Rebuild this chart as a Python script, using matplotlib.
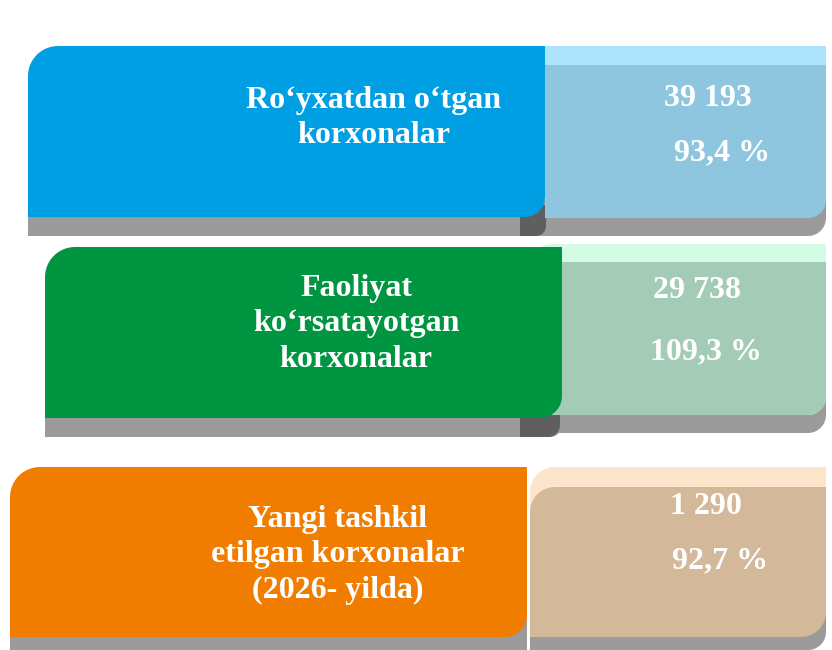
import numpy as np
import matplotlib
matplotlib.use("Agg")
from matplotlib import pyplot as plt
from matplotlib.patches import Polygon


# data of the three blocks
labels = ["Ro\u2018yxatdan o\u2018tgan\nkorxonalar",
          "Faoliyat\nko\u2018rsatayotgan\nkorxonalar",
          "Yangi tashkil\netilgan korxonalar\n(2026- yilda)"]
counts = ["39 193", "29 738", "1 290"]
percents = ["93,4 %", "109,3 %", "92,7 %"]

main_colors = ["#009FE3", "#009540", "#F07D00"]
side_colors = ["#8EC6E0", "#A3CBB6", "#D4B89A"]
strip_colors = ["#ADE4FC", "#D4FCE4", "#FDE5CC"]
shadow = "#9B9B9B"
dark = "#5F5F5F"


def rrect(x0, y0, x1, y1, r=(0, 0, 0, 0)):
    # rounded rect in pixel coords (y down), radii: tl, tr, br, bl
    tl, tr, br, bl = r
    pts = []

    def arc(cx, cy, rad, a0, a1):
        if rad == 0:
            return [(cx, cy)]
        t = np.radians(np.linspace(a0, a1, 14))
        return list(zip(cx + rad * np.cos(t), cy + rad * np.sin(t)))

    pts += arc(x0 + tl, y0 + tl, tl, 180, 270)
    pts += arc(x1 - tr, y0 + tr, tr, 270, 360)
    pts += arc(x1 - br, y1 - br, br, 0, 90)
    pts += arc(x0 + bl, y1 - bl, bl, 90, 180)
    return np.array(pts)


def box(ax, x0, y0, x1, y1, color, r=(0, 0, 0, 0), z=1):
    ax.add_patch(Polygon(rrect(x0, y0, x1, y1, r), closed=True,
                         facecolor=color, edgecolor="none", zorder=z))


fig = plt.figure(figsize=(8.32, 6.5), dpi=100)
ax = fig.add_axes([0, 0, 1, 1])
ax.set_xlim(0, 832)
ax.set_ylim(650, 0)
ax.axis("off")

font = dict(family="Liberation Serif", weight="bold", color="white", fontsize=23)

# panel 1
box(ax, 28, 200, 545, 236, shadow)
box(ax, 520, 200, 826, 236, shadow, (0, 0, 18, 0))
box(ax, 520, 205, 546, 236, dark, (0, 0, 10, 0), z=2)
box(ax, 545, 46, 826, 218, side_colors[0], (0, 0, 18, 0), z=3)
box(ax, 545, 46, 826, 65, strip_colors[0], z=3)
box(ax, 28, 46, 545, 217, main_colors[0], (30, 0, 20, 0), z=4)

# panel 2
box(ax, 45, 400, 562, 437, shadow, (0, 0, 12, 0))
box(ax, 520, 400, 826, 433, shadow, (0, 0, 18, 0))
box(ax, 520, 405, 560, 437, dark, (0, 0, 12, 0), z=2)
box(ax, 533, 244, 826, 415, strip_colors[1], (18, 0, 18, 0), z=3)
box(ax, 548, 262, 826, 415, side_colors[1], (0, 0, 18, 0), z=3)
box(ax, 45, 247, 562, 418, main_colors[1], (30, 0, 22, 0), z=4)

# panel 3
box(ax, 10, 615, 527, 650, shadow)
box(ax, 530, 615, 826, 650, shadow, (0, 0, 18, 0))
box(ax, 530, 467, 826, 560, strip_colors[2], (25, 0, 0, 0), z=3)
box(ax, 530, 487, 826, 637, side_colors[2], (25, 0, 25, 0), z=3)
box(ax, 10, 467, 527, 637, main_colors[2], (30, 0, 22, 0), z=4)

# texts
label_pos = [(374, 118), (356, 324), (338, 555)]
count_pos = [(708, 99), (697, 291), (706, 507)]
pct_pos = [(722, 153), (706, 352), (720, 561)]
for i in range(3):
    ax.text(*label_pos[i], labels[i], ha="center", va="center",
            linespacing=1.3, zorder=10, **font)
    ax.text(*count_pos[i], counts[i], ha="center", va="center", zorder=10, **font)
    ax.text(*pct_pos[i], percents[i], ha="center", va="center", zorder=10, **font)

fig.savefig("out.png", dpi=100)
